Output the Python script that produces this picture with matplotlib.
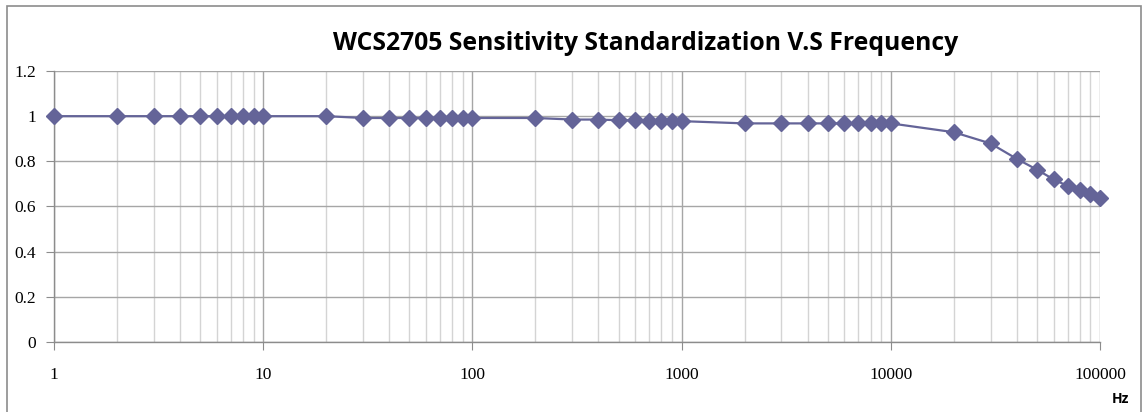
import matplotlib
matplotlib.use("Agg")
import matplotlib.pyplot as plt
from matplotlib import font_manager
from matplotlib.ticker import FixedLocator, NullFormatter
from matplotlib.patches import Rectangle

serif_path = font_manager.findfont(font_manager.FontProperties(family="Liberation Serif"))
serif_fp = font_manager.FontProperties(fname=serif_path, size=12.5)

# Frequencies (Hz) and normalised sensitivity
freq = [1, 2, 3, 4, 5, 6, 7, 8, 9, 10,
        20, 30, 40, 50, 60, 70, 80, 90, 100,
        200, 300, 400, 500, 600, 700, 800, 900, 1000,
        2000, 3000, 4000, 5000, 6000, 7000, 8000, 9000, 10000,
        20000, 30000, 40000, 50000, 60000, 70000, 80000, 90000, 100000]
sens = [1.0, 1.0, 1.0, 1.0, 1.0, 1.0, 1.0, 1.0, 1.0, 1.0,
        1.0, 0.992, 0.992, 0.992, 0.992, 0.992, 0.992, 0.992, 0.992,
        0.992, 0.985, 0.985, 0.982, 0.982, 0.978, 0.978, 0.978, 0.978,
        0.968, 0.968, 0.968, 0.968, 0.968, 0.968, 0.968, 0.968, 0.968,
        0.929, 0.879, 0.811, 0.763, 0.72, 0.691, 0.675, 0.656, 0.638]

y_ticks = [0, 0.2, 0.4, 0.6, 0.8, 1.0, 1.2]
y_labels = ["0", "0.2", "0.4", "0.6", "0.8", "1", "1.2"]
x_ticks = [1, 10, 100, 1000, 10000, 100000]
x_labels = ["1", "10", "100", "1000", "10000", "100000"]

W, H = 1142, 412
fig = plt.figure(figsize=(W / 100, H / 100), dpi=100)
ax = fig.add_axes([54 / W, 1 - 342 / H, (1100 - 54) / W, (342 - 71) / H])

# outer chart border (bottom edge falls off the image)
fig.patches.append(Rectangle((7 / W, -0.05), (1141 - 7) / W, (412 - 6) / H + 0.05 - 0.001,
                             transform=fig.transFigure, fill=False,
                             edgecolor="#8c8c8c", linewidth=1.2))

ax.set_xscale("log")
ax.set_xlim(1, 100000)
ax.set_ylim(0, 1.2)

minor = [m * 10 ** d for d in range(5) for m in range(2, 10)]
ax.xaxis.set_major_locator(FixedLocator(x_ticks))
ax.xaxis.set_minor_locator(FixedLocator(minor))
ax.xaxis.set_minor_formatter(NullFormatter())
ax.set_xticks(x_ticks)
ax.set_xticklabels(x_labels, fontproperties=serif_fp)
ax.set_yticks(y_ticks)
ax.set_yticklabels(y_labels, fontproperties=serif_fp)

ax.grid(True, which="major", axis="both", color="#a6a6a6", linewidth=1.0)
ax.grid(True, which="minor", axis="x", color="#d4d4d4", linewidth=1.0)
ax.set_axisbelow(True)

for s in ["top", "right"]:
    ax.spines[s].set_visible(False)
for s in ["left", "bottom"]:
    ax.spines[s].set_color("#8c8c8c")
    ax.spines[s].set_linewidth(1.0)

ax.tick_params(axis="both", which="major", length=6, color="#8c8c8c")
ax.tick_params(axis="x", pad=12)
ax.tick_params(axis="y", pad=7)
ax.tick_params(axis="x", which="minor", length=0)

ax.plot(freq, sens, color="#646498", linewidth=1.6, marker="D",
        markersize=8, clip_on=False, zorder=3)

fig.text(646 / W, 1 - 43 / H, "WCS2705 Sensitivity Standardization V.S Frequency",
         ha="center", va="center", fontsize=17.8, fontweight="bold", family="Open Sans")
fig.text(1120 / W, 1 - 399 / H, "Hz", ha="center", va="center",
         fontsize=10, fontweight="bold", family="Open Sans")

fig.savefig("out.png", dpi=100)
